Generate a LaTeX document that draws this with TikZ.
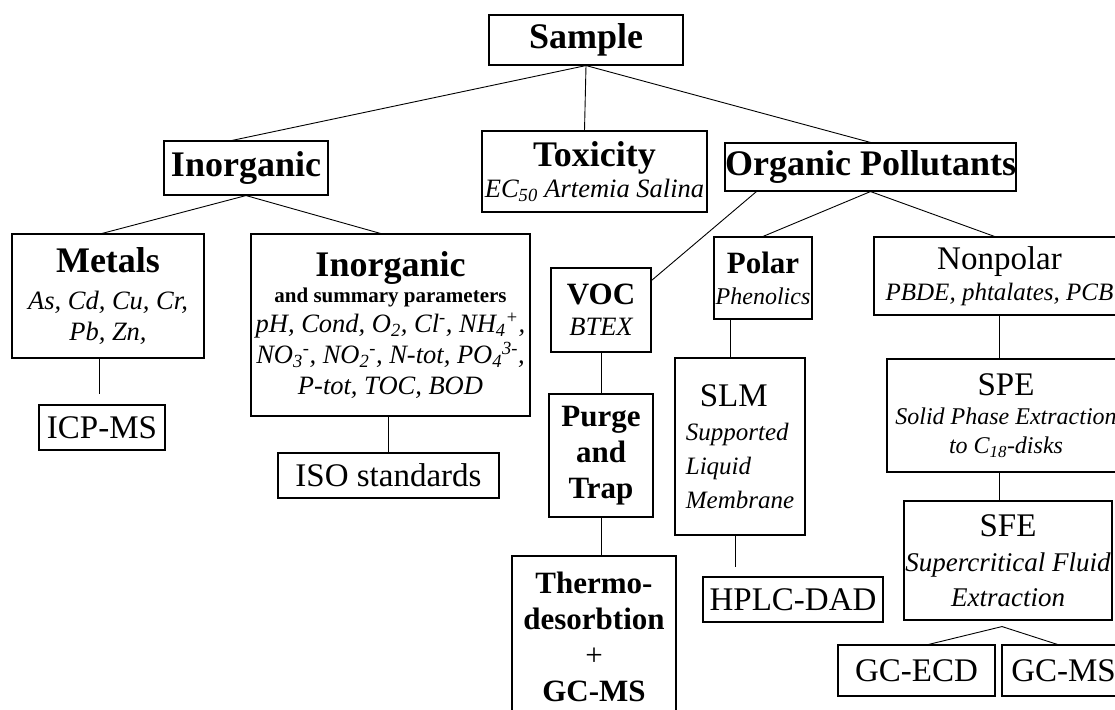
\documentclass[tikz,border=0pt]{standalone}
\usepackage{fontspec}
\setmainfont{Liberation Serif}
\newcommand\bighd{\fontsize{36}{40}\selectfont\bfseries\upshape}
\newcommand\midhd{\fontsize{31}{36}\selectfont\bfseries\upshape}
\newcommand\rmhd{\fontsize{33}{37}\selectfont\mdseries\upshape}
\tikzset{
  box/.style={draw, line width=1.1pt, inner sep=0pt, align=center,
    font=\fontsize{26.5}{31}\selectfont\itshape},
  link/.style={line width=0.9pt}
}
\begin{document}
\begin{tikzpicture}[x=1pt, y=-1pt]
    \useasboundingbox (0,0) rectangle (1115,709);
    % Верхний уровень
    \node[box, minimum width=194, minimum height=50] (sample) at (586,40) {\bighd Sample};
    \node[box, minimum width=164, minimum height=54] (inorg) at (246,168) {\bighd Inorganic};
    \node[box, minimum width=225, minimum height=81] (tox) at (594.5,171.5) {{\bighd Toxicity}\\[0pt] EC\textsubscript{50} Artemia Salina};
    \node[box, minimum width=289, minimum height=48] (org) at (870.5,167) {\bighd Organic Pollutants};
    % Неорганика
    \node[box, minimum width=192, minimum height=124] (metals) at (108,296) {{\bighd Metals}\\[6pt] As, Cd, Cu, Cr,\\ Pb, Zn,};
    \node[box, minimum width=279, minimum height=182] (params) at (390.5,325) {{\bighd Inorganic}\\[-5pt] {\fontsize{21}{24}\selectfont\bfseries\upshape and summary parameters}\\[-1pt] pH, Cond, O\textsubscript{2}, Cl\textsuperscript{-}, NH\textsubscript{4}\textsuperscript{+},\\ NO\textsubscript{3}\textsuperscript{-}, NO\textsubscript{2}\textsuperscript{-}, N-tot, PO\textsubscript{4}\textsuperscript{3-},\\ P-tot, TOC, BOD};
    \node[box, minimum width=126, minimum height=45] (icp) at (102,427.5) {\rmhd ICP-MS};
    \node[box, minimum width=221, minimum height=45] (iso) at (388.5,475.5) {\rmhd ISO standards};
    % Органика
    \node[box, minimum width=100, minimum height=84] (voc) at (601,310) {{\midhd VOC}\\ BTEX};
    \node[box, minimum width=98, minimum height=82, font=\fontsize{24}{31}\selectfont\itshape] (polar) at (763,278) {{\midhd Polar}\\ Phenolics};
    \node[box, minimum width=251, minimum height=78, font=\fontsize{25}{31}\selectfont\itshape] (nonpolar) at (999.5,276) {{\rmhd Nonpolar}\\ PBDE, phtalates, PCB};
    \node[box, minimum width=104, minimum height=123, font=\midhd] (purge) at (601,455.5) {Purge\\ and\\ Trap};
    \node[box, minimum width=164, minimum height=162, font=\midhd] (thermo) at (594,637) {Thermo-\\ desorbtion\\ {\mdseries +}\\ GC-MS};
    \node[box, minimum width=130, minimum height=177, align=left, font=\fontsize{25}{34}\selectfont\itshape] (slm) at (740,446.5) {{\rmhd\hspace*{14pt}SLM}\\ Supported\\ Liquid\\ Membrane};
    \node[box, minimum width=180, minimum height=45] (hplc) at (793,599.5) {\rmhd HPLC-DAD};
    \node[box, minimum width=238, minimum height=113, font=\fontsize{24}{29}\selectfont\itshape] (spe) at (1006,415.5) {{\rmhd SPE}\\ Solid Phase Extraction\\ to C\textsubscript{18}-disks};
    \node[box, minimum width=208, minimum height=119, font=\fontsize{27}{31}\selectfont\itshape] (sfe) at (1008,560.5) {{\rmhd SFE}\\[4pt] Supercritical Fluid\\[4pt] Extraction};
    \node[box, minimum width=157, minimum height=51] (gcecd) at (916.5,670.5) {\rmhd GC-ECD};
    \node[box, minimum width=123, minimum height=51] (gcms) at (1063.5,670.5) {\rmhd GC-MS};
    % Связи
    \draw[link] (sample.south) -- ([xshift=-14pt]inorg.north);
    \draw[link] (sample.south) -- ([xshift=-10pt]tox.north);
    \draw[link] (sample.south) -- (org.north);
    \draw[link] (inorg.south) -- ([xshift=-6pt]metals.north);
    \draw[link] (inorg.south) -- ([xshift=-10pt]params.north);
    \draw[link, shorten >=10pt] ([xshift=-3pt]icp.north |- metals.south) -- ([xshift=-3pt]icp.north);
    \draw[link] (iso.north |- params.south) -- (iso.north);
    \draw[link] ([xshift=32pt]org.south west) -- ([yshift=-13pt]voc.north east);
    \draw[link] (org.south) -- (polar.north);
    \draw[link] (org.south) -- ([xshift=-5pt]nonpolar.north);
    \draw[link] (voc.south) -- (purge.north);
    \draw[link] (purge.south) -- (purge.south |- thermo.north);
    \draw[link] ([xshift=-10pt]slm.north |- polar.south) -- ([xshift=-10pt]slm.north);
    \draw[link, shorten >=9pt] ([xshift=-5pt]slm.south) -- ([xshift=-5pt]slm.south |- hplc.north);
    \draw[link] (nonpolar.south) -- (nonpolar.south |- spe.north);
    \draw[link] (nonpolar.south |- spe.south) -- (nonpolar.south |- sfe.north);
    \coordinate (fork) at ([xshift=-6pt, yshift=-6pt]sfe.south);
    \draw[link] ([xshift=12pt]gcecd.north) -- (fork) -- ([xshift=-6pt]gcms.north);
\end{tikzpicture}
\end{document}
